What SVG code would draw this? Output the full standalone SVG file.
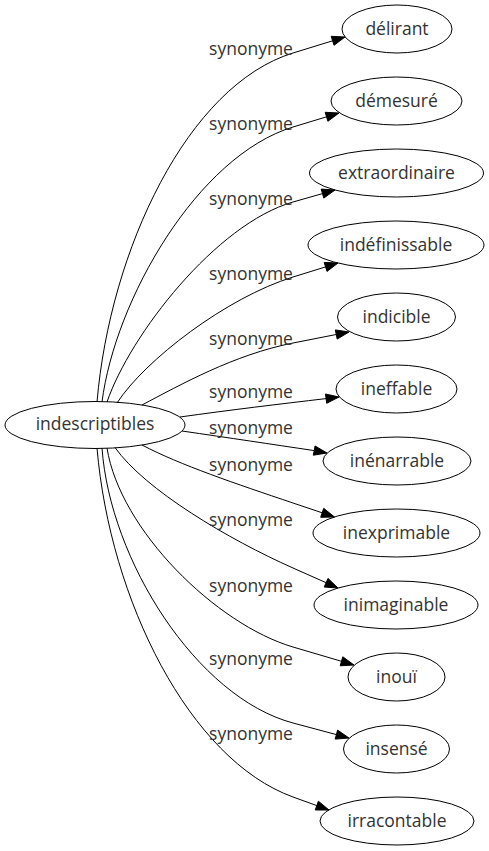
<svg xmlns="http://www.w3.org/2000/svg" width="489" height="851" viewBox="0 0 489 851">
<style>
.n ellipse{fill:none;stroke:#000;stroke-width:1}
text{font-family:"Open Sans","Noto Sans",sans-serif;font-size:17.5px;fill:#333;text-anchor:middle}
#edges path{fill:none;stroke:#000;stroke-width:1}
#edges polygon{fill:#000;stroke:#000;stroke-width:1}
</style>
<rect width="489" height="851" fill="#fff"/>
<g id="edges">
<path d="M97,402 C110,250 187.8,85.3 293,53 L332.6,40.8"/><polygon points="334,45.3 345,37 331.2,36.3"/>
<path d="M102,402 C115,300 197.4,156.1 293,127 L326.6,116.8"/><polygon points="327.9,121.3 339,113 325.2,112.3"/>
<path d="M107,402 C130,335 216.1,224 293,202 L322.5,193.6"/><polygon points="323.8,198.1 335,190 321.2,189.1"/>
<path d="M117,403 C145,360 226.1,297.8 293,277 L325.6,266.9"/><polygon points="327,271.4 338,263 324.2,262.4"/>
<path d="M142,405 C180,385 234.1,354.6 293,343 L336.2,334.5"/><polygon points="337.2,339.1 349,332 335.3,329.9"/>
<path d="M180,417 C230,410 280,404 326.1,398.6"/><polygon points="326.7,403.3 339,397 325.5,394"/>
<path d="M182,431 C230,438 270,444 314.2,450.6"/><polygon points="313.3,455.2 327,453 315.1,446"/>
<path d="M142,445 C180,465 236.1,483.8 293,503 L322.2,512.8"/><polygon points="320.7,517.3 334.5,517 323.7,508.3"/>
<path d="M115,447.5 C145,490 229,539.6 293,568 L326.1,582.7"/><polygon points="324.2,587 338,588 328,578.4"/>
<path d="M107,448 C120,530 216.3,624.4 293,647 L341.5,661.3"/><polygon points="340.2,665.8 354,665 342.8,656.8"/>
<path d="M102,448 C110,560 196.4,697.1 293,723 L336.4,734.6"/><polygon points="335.2,739.1 349,738 337.6,730.1"/>
<path d="M97,448 C110,600 189.6,759.6 293,797 L316.8,805.6"/><polygon points="315.2,810 329,810 318.4,801.2"/>
<text x="251" y="54.5">synonyme</text>
<text x="251" y="129.5">synonyme</text>
<text x="251" y="205">synonyme</text>
<text x="251" y="279.5">synonyme</text>
<text x="251" y="345">synonyme</text>
<text x="251" y="398">synonyme</text>
<text x="251" y="433.5">synonyme</text>
<text x="251" y="471">synonyme</text>
<text x="251" y="526">synonyme</text>
<text x="251" y="591.5">synonyme</text>
<text x="251" y="664.5">synonyme</text>
<text x="251" y="740">synonyme</text>
</g>
<g id="indescriptibles" class="n"><ellipse cx="95" cy="425" rx="90" ry="23.5"/><text x="95" y="430">indescriptibles</text></g>
<g id="delirant" class="n"><ellipse cx="397" cy="29" rx="55" ry="24"/><text x="397" y="35">délirant</text></g>
<g id="demesure" class="n"><ellipse cx="396.5" cy="101" rx="65.5" ry="24"/><text x="396.5" y="107">démesuré</text></g>
<g id="extraordinaire" class="n"><ellipse cx="396.5" cy="173" rx="87" ry="24"/><text x="396.5" y="179">extraordinaire</text></g>
<g id="indefinissable" class="n"><ellipse cx="396" cy="245" rx="88" ry="24"/><text x="396" y="251">indéfinissable</text></g>
<g id="indicible" class="n"><ellipse cx="396.5" cy="317" rx="59" ry="24"/><text x="396.5" y="323">indicible</text></g>
<g id="ineffable" class="n"><ellipse cx="396.5" cy="389" rx="60.5" ry="24"/><text x="396.5" y="395">ineffable</text></g>
<g id="inenarrable" class="n"><ellipse cx="397" cy="461" rx="74" ry="24"/><text x="397" y="467">inénarrable</text></g>
<g id="inexprimable" class="n"><ellipse cx="396.5" cy="533" rx="83.5" ry="24"/><text x="396.5" y="539">inexprimable</text></g>
<g id="inimaginable" class="n"><ellipse cx="396" cy="605" rx="82" ry="24"/><text x="396" y="611">inimaginable</text></g>
<g id="inoui" class="n"><ellipse cx="396.5" cy="677" rx="48.5" ry="24"/><text x="396.5" y="683">inouï</text></g>
<g id="insense" class="n"><ellipse cx="396.5" cy="749" rx="53" ry="24"/><text x="396.5" y="755">insensé</text></g>
<g id="irracontable" class="n"><ellipse cx="397" cy="821" rx="77" ry="24"/><text x="397" y="827">irracontable</text></g>
</svg>
